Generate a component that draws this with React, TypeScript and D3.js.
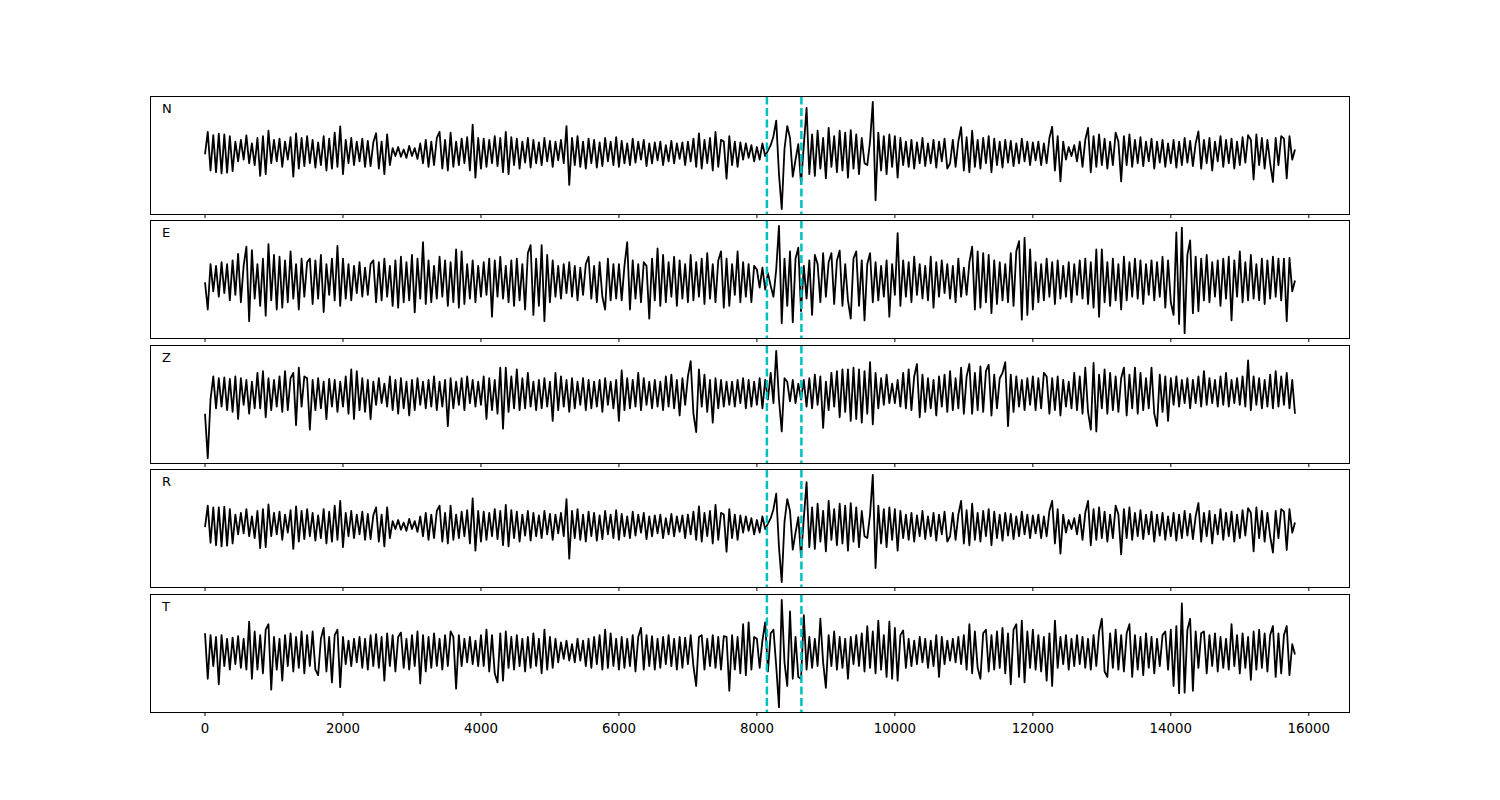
import React from "react";
import * as d3 from "d3";

const channels = ["N", "E", "Z", "R", "T"];
const tickValues = [0, 2000, 4000, 6000, 8000, 10000, 12000, 14000, 16000];
const picks = [8145, 8645];
const sampleStep = 40;

const traceN = [
  -5,57,-50,48,-55,52,-58,50,-56,45,
  -52,30,-25,35,-20,47,-30,25,-35,40,
  -65,45,-60,60,-30,35,-25,38,-40,30,
  -20,42,-67,53,-45,40,-38,45,-30,35,
  -42,28,-35,45,-50,38,-45,55,-40,72,
  -60,35,-30,40,-35,30,-25,38,-40,32,
  -38,28,53,-45,30,-60,50,-35,12,-10,
  15,-12,8,-15,18,-10,12,-18,25,-30,
  35,-40,30,-35,40,57,-45,35,-50,55,
  -40,30,-35,38,-30,42,-50,77,-70,40,
  -45,38,-40,35,-30,45,-38,40,-55,57,
  -60,42,-35,38,-45,30,-28,40,-42,35,
  -30,28,-35,40,-25,32,-40,30,-22,35,
  -30,73,-90,40,-35,45,-40,30,-45,38,
  -30,35,-42,28,-38,40,-25,30,-35,42,
  -40,32,-30,25,-35,38,-28,30,-20,35,
  -38,25,-30,28,-22,30,-35,20,-25,32,
  -30,25,-18,28,-35,30,-25,38,-40,53,
  -45,35,-30,40,-50,57,-40,35,30,-73,
  45,-35,30,-40,28,-20,25,-15,20,-25,
  15,-20,25,-10,5,20,45,88,-60,-157,
  10,73,40,-67,-20,23,-87,20,123,-60,
  50,-65,60,-45,40,-72,68,-40,45,-55,
  60,-50,55,-70,62,-45,50,-60,40,-30,
  -35,30,140,-132,55,-50,45,-60,50,-40,
  45,-70,40,-35,30,-40,35,-45,28,-30,
  40,-38,25,-30,35,-42,30,-25,38,-45,
  -30,35,-40,30,70,-50,42,-55,60,-40,
  35,-45,40,-30,45,-55,38,-35,30,-42,
  35,-28,32,-38,25,-30,38,-25,30,-35,
  28,-22,30,-35,25,-30,40,71,-50,45,
  -80,30,-20,15,-10,20,-25,30,-40,35,
  68,-55,45,-40,50,-35,38,-45,30,-35,
  55,30,-80,45,-35,50,-40,35,-30,42,
  -38,30,-25,38,-45,30,-28,35,-40,25,
  -30,35,-42,30,-35,40,-28,32,-38,25,
  58,-45,35,-30,40,-50,30,-25,45,-40,
  35,-30,38,-45,30,-35,42,-28,48,35,
  -75,50,-35,40,-45,35,-30,-82,40,-35,
  45,38,-72,45,-20,8,
];

const traceE = [
  -5,-80,45,-30,40,-45,50,-35,45,-55,
  55,-40,73,-60,40,93,-112,83,-50,45,
  -70,60,-97,100,-55,70,-80,65,-75,55,
  -60,80,-50,45,-80,60,-45,50,60,-65,
  55,-50,70,-87,45,-40,60,-55,95,-70,
  60,-50,45,-55,40,-35,50,-45,35,-40,
  45,55,-60,50,-55,60,-45,40,-70,55,
  -75,65,-60,50,-55,70,-88,60,-50,105,
  -65,55,-60,40,-50,65,-45,55,-70,50,
  -60,85,-75,80,-65,45,-50,55,-60,40,
  -45,50,-40,60,-100,55,-45,65,-50,40,
  -60,55,-70,60,-55,45,-80,75,97,-95,
  60,-70,97,-112,70,-60,55,-45,40,-50,
  45,-35,50,-45,40,-55,35,-40,45,65,
  -50,40,-60,50,-45,-80,60,-55,45,-50,
  45,-55,40,105,-80,55,-50,45,-60,50,
  40,-105,60,-55,88,-70,70,-60,50,-45,
  65,-70,55,-50,45,-60,70,-55,50,-45,
  60,-65,75,-50,45,-60,55,80,-75,60,
  -70,45,-40,80,-60,50,-45,45,-60,40,
  30,-20,35,-25,20,-15,-45,30,150,-118,
  60,-70,80,-115,60,90,-85,40,-50,55,
  -95,70,45,-60,75,-45,50,75,-65,55,
  82,-70,45,-55,-105,60,80,-70,55,-110,
  45,75,-60,50,-55,40,-45,55,-100,45,
  -40,130,-70,55,-45,50,-60,65,-40,45,
  -50,40,-55,65,-75,50,-45,55,-35,45,
  -50,40,-60,60,-45,35,-40,50,93,-80,
  80,-75,75,-60,70,-90,55,-65,50,-55,
  45,-60,75,-70,80,108,-108,117,-95,85,
  -80,50,-60,45,-55,60,-45,50,-65,55,
  -50,40,-45,50,-60,45,-40,55,-50,60,
  -65,50,-75,85,-100,85,-60,50,-70,60,
  -55,45,-80,65,-55,50,-45,60,-50,55,
  -65,45,-40,55,-55,50,-45,65,-75,55,
  -60,-95,132,-120,145,-145,70,110,-90,65,
  -85,60,-55,70,-60,50,-45,55,-70,60,
  -50,65,-110,55,-45,80,-60,50,-55,70,
  -50,45,-55,60,-65,55,-50,65,-45,60,
  -55,60,-112,62,-30,0,
];

const traceZ = [
  -60,-185,-20,45,-45,40,-40,42,-50,38,
  -55,45,-75,40,-35,35,-60,30,-45,55,
  -45,60,-70,40,-50,35,-40,45,-55,60,
  -50,40,55,-92,70,-40,45,40,-105,35,
  -50,40,-45,30,-75,38,-40,35,-55,30,
  -40,45,-60,65,-75,60,-50,40,-55,35,
  -75,30,-35,40,-30,25,-40,45,-50,35,
  -60,40,-45,30,-65,35,-50,40,-35,30,
  -45,35,-40,45,-50,30,-40,35,-95,40,
  -45,30,-35,40,-50,45,-30,35,-40,30,
  -35,45,-75,40,-50,35,-60,70,-102,70,
  -55,45,-45,65,-50,40,-45,55,-40,30,
  -50,35,-45,40,-40,30,-80,55,-50,45,
  -40,35,-55,40,-45,30,-35,40,-50,35,
  -45,30,-40,35,-55,40,-35,30,-45,35,
  -80,62,-50,40,-45,35,-40,55,-50,40,
  -35,30,-45,35,-40,30,-50,45,-40,50,
  -45,35,-65,40,-35,45,88,-60,-112,65,
  -40,50,-55,35,-85,40,-45,35,-40,30,
  -35,30,-40,35,-30,40,-45,35,-40,30,
  -35,40,-45,35,-20,55,-30,117,-20,-110,
  40,30,-25,35,-30,25,-20,35,-40,40,
  -45,50,-35,45,-100,30,-50,55,-40,60,
  -70,65,-55,65,-80,70,-75,65,-85,60,
  -60,85,-90,55,-45,40,-35,50,-30,25,
  -30,35,-40,55,-45,65,-50,45,80,-70,
  50,-55,40,-45,35,-65,45,-40,50,-55,
  60,-50,40,-45,70,-60,45,80,-60,55,
  -50,73,-55,60,78,-65,50,-45,40,55,
  85,-95,50,-55,45,-40,35,-50,40,-35,
  45,-50,40,-45,55,45,-60,40,-50,45,
  -65,35,-40,30,-45,55,-50,45,-60,70,
  -55,-105,83,-110,50,-45,65,-60,55,-50,
  45,-55,40,70,-65,50,-45,70,-60,55,
  -50,40,-45,70,-60,-95,50,-55,45,-80,
  40,-35,45,-40,35,-30,40,-45,35,-30,
  45,-40,60,-35,40,-30,35,-40,45,-35,
  55,-40,35,-30,40,-35,45,-40,90,-50,
  45,-35,40,-45,35,-40,50,-45,60,-40,
  45,-35,55,-45,35,-60,
];

const traceR = [
  -5,55,-48,50,-55,50,-58,52,-56,45,
  -50,30,-25,35,-22,45,-30,25,-35,40,
  -63,45,-60,58,-30,35,-25,38,-40,30,
  -20,42,-65,53,-45,40,-38,45,-30,35,
  -42,28,-35,45,-50,38,-45,55,-40,68,
  -60,35,-30,40,-35,30,-25,38,-40,32,
  -38,28,50,-45,30,-58,50,-35,12,-10,
  15,-12,8,-15,18,-10,12,-18,25,-30,
  35,-40,30,-35,40,55,-45,35,-50,55,
  -40,30,-35,38,-30,42,-50,75,-70,40,
  -45,38,-40,35,-30,45,-38,40,-55,57,
  -58,42,-35,38,-45,30,-28,40,-42,35,
  -30,28,-35,40,-25,32,-40,30,-22,35,
  -30,73,-92,40,-35,45,-40,30,-45,38,
  -30,35,-42,28,-38,40,-25,30,-35,42,
  -40,32,-30,25,-35,38,-28,30,-20,35,
  -38,25,-30,28,-22,30,-35,20,-25,32,
  -30,25,-18,28,-35,30,-25,38,-40,53,
  -45,35,-30,40,-50,57,-40,35,30,-73,
  45,-35,30,-40,28,-20,25,-15,20,-25,
  15,-20,25,-10,5,20,45,88,-60,-157,
  10,73,40,-67,-20,23,-87,20,120,-60,
  50,-65,60,-45,40,-72,68,-40,45,-55,
  60,-50,55,-70,62,-45,50,-60,40,-30,
  -35,30,140,-118,55,-50,45,-60,50,-40,
  45,-70,40,-35,30,-40,35,-45,28,-30,
  40,-38,25,-30,35,-42,30,-25,38,-45,
  -30,35,-40,30,68,-50,42,-55,60,-40,
  35,-45,40,-30,45,-55,38,-35,30,-42,
  35,-28,32,-38,25,-30,38,-25,30,-35,
  28,-22,30,-35,25,-30,40,68,-50,45,
  -78,30,-20,15,-10,20,-25,30,-40,35,
  68,-55,45,-40,50,-35,38,-45,30,-35,
  55,30,-80,45,-35,50,-40,35,-30,42,
  -38,30,-25,38,-45,30,-28,35,-40,25,
  -30,35,-42,30,-35,40,-28,32,-38,25,
  62,-45,35,-30,40,-50,30,-25,45,-40,
  35,-30,38,-45,30,-35,42,-28,48,35,
  -72,50,-35,40,-45,35,-30,-75,40,-35,
  45,38,-68,45,-20,8,
];

const traceT = [
  50,-75,45,-40,40,-90,45,-40,35,-50,
  38,-35,42,-45,35,-50,82,-75,55,-50,
  45,-60,60,75,-105,40,-50,35,-80,45,
  -40,50,-55,40,-45,55,-60,45,-40,55,
  -50,-65,35,65,-55,40,-85,45,60,-98,
  40,-35,30,-40,35,-30,40,-45,35,-50,
  45,-40,48,-45,40,-80,50,-40,45,-55,
  40,52,-45,35,-50,45,-40,55,-88,45,
  -55,40,-45,50,-40,35,-50,45,-40,55,
  40,-102,45,-40,35,-30,40,-35,30,-40,
  45,-40,60,-55,45,-60,-85,50,-80,55,
  -45,40,-50,45,-40,35,-55,40,-45,50,
  -40,35,-60,60,-50,40,-45,35,-30,25,
  -20,30,-25,20,-30,35,-25,30,-40,35,
  -45,40,-35,45,-50,60,-45,50,-40,35,
  -50,40,-45,35,-40,45,-55,40,65,-50,
  45,-40,42,-50,35,-45,40,-35,45,-40,
  35,-50,40,-45,38,-35,45,-40,-95,40,
  45,-50,35,-40,45,-45,40,-50,42,40,
  -108,45,-50,40,-60,75,-65,80,-50,40,
  35,-45,30,80,-55,50,60,-40,-153,142,
  -30,-95,110,-75,40,-70,-75,100,-50,40,
  -45,35,-40,90,-30,-100,45,-40,55,-50,
  40,-45,35,-75,40,-35,45,-40,50,-55,
  70,-45,55,-60,85,-50,45,-70,82,-75,
  65,-80,45,58,-45,35,-40,30,-35,40,
  -30,35,-45,30,-40,45,-70,40,-35,30,
  -25,35,-30,40,-35,45,-50,75,-60,55,
  -45,-75,50,60,-55,45,-50,55,-45,65,
  -60,50,-90,60,75,-70,85,-85,55,-45,
  60,-50,45,-55,40,-80,50,-95,85,-45,
  40,-35,45,-50,35,-40,45,-35,40,-45,
  35,-50,45,-40,55,90,-55,-70,50,-45,
  60,-50,45,-55,50,75,-70,45,-50,40,
  -65,50,-45,40,-60,35,-40,45,55,-50,
  60,-95,70,-115,132,-113,60,90,-108,55,
  -45,50,55,-60,45,-40,50,-55,40,-45,
  35,-50,75,-40,45,-60,50,-45,40,-78,
  55,-50,60,-45,50,-55,45,70,-70,50,
  -60,45,70,-65,20,-8,
];

const traces = [traceN, traceE, traceZ, traceR, traceT];

export default function App() {
  const W = 1500;
  const H = 800;
  const left = 150.5;
  const right = 1349.5;
  const panelTops = [96.5, 220.5, 345.5, 469.5, 594.5];
  const panelH = 118;
  const font = "DejaVu Sans, sans-serif";

  const x = d3.scaleLinear().domain([-790, 16590]).range([left, right]);

  return (
    <div style={{ position: "absolute", left: 0, top: 0, width: W, height: H, background: "#fff" }}>
      <svg width={W} height={H} viewBox={`0 0 ${W} ${H}`} style={{ display: "block" }}>
        <rect x={0} y={0} width={W} height={H} fill="#fff" />
        {traces.map((tr, k) => {
          const top = panelTops[k];
          const bottom = top + panelH;
          const [mn, mx] = d3.extent(tr) as [number, number];
          const pad = (mx - mn) * 0.05;
          const y = d3.scaleLinear().domain([mn - pad, mx + pad]).range([bottom, top]);
          const line = d3
            .line<number>()
            .x((_, i) => x(i * sampleStep))
            .y((v) => y(v));
          return (
            <g key={channels[k]}>
              <path d={line(tr) || ""} fill="none" stroke="#000" strokeWidth={1.8} strokeLinejoin="round" />
              {picks.map((p) => (
                <line
                  key={p}
                  x1={x(p)}
                  x2={x(p)}
                  y1={top}
                  y2={bottom}
                  stroke="#00bfbf"
                  strokeWidth={2.5}
                  strokeDasharray="8,3.5"
                />
              ))}
              <rect x={left} y={top} width={right - left} height={panelH} fill="none" stroke="#000" strokeWidth={1} />
              {tickValues.map((t) => (
                <line key={t} x1={x(t)} x2={x(t)} y1={bottom} y2={bottom + 3.5} stroke="#000" strokeWidth={1} />
              ))}
              <text x={162} y={top + 16} fontFamily={font} fontSize={13} fill="#000">
                {channels[k]}
              </text>
              {k === traces.length - 1 &&
                tickValues.map((t) => (
                  <text
                    key={"l" + t}
                    x={x(t)}
                    y={bottom + 20.5}
                    fontFamily={font}
                    fontSize={13.33}
                    textAnchor="middle"
                    fill="#000"
                  >
                    {t}
                  </text>
                ))}
            </g>
          );
        })}
      </svg>
    </div>
  );
}
